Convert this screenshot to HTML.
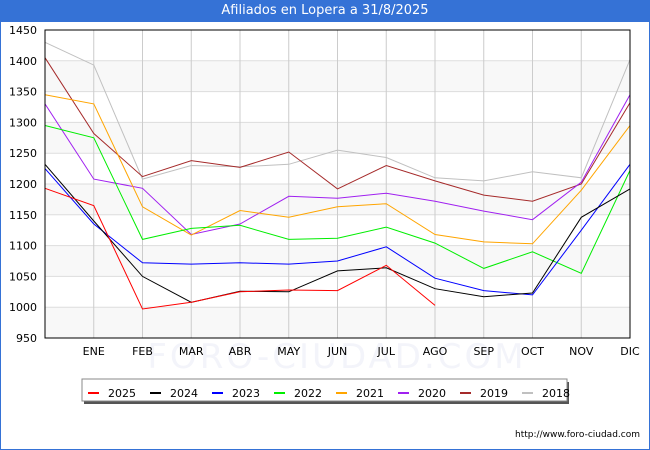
<!DOCTYPE html>
<html><head><meta charset="utf-8"><style>
body{margin:0;width:650px;height:450px;overflow:hidden;background:#fff;font-family:"DejaVu Sans","Liberation Sans",sans-serif}
#wrap{position:absolute;left:0;top:0;width:648px;height:448px;border:1px solid #3572d6}
#title{position:absolute;left:0;top:0;width:650px;height:22px;background:#3572d6;color:#fff;font-size:13px;line-height:22px;text-align:center}
</style></head><body>
<div id="wrap"></div>
<div id="title">Afiliados en Lopera a 31/8/2025</div>
<svg id="chart" width="650" height="450" style="position:absolute;left:0;top:0"></svg>
<script>
const months=["","ENE","FEB","MAR","ABR","MAY","JUN","JUL","AGO","SEP","OCT","NOV","DIC"];
const yTicks=[950,1000,1050,1100,1150,1200,1250,1300,1350,1400,1450];
const seriesNames=["2025","2024","2023","2022","2021","2020","2019","2018"];
const seriesColors=["#ff0000","#000000","#0000ff","#00ee00","#ffa500","#a020f0","#a52a2a","#c0c0c0"];
const s2025=[1193,1165,997,1008,1025,1028,1027,1068,1003];
const s2024=[1232,1140,1050,1008,1026,1025,1059,1064,1030,1017,1023,1146,1192];
const s2023=[1225,1135,1072,1070,1072,1070,1075,1098,1047,1027,1020,1125,1232];
const s2022=[1295,1275,1110,1128,1133,1110,1112,1130,1104,1063,1090,1055,1222];
const s2021=[1345,1330,1163,1117,1157,1146,1163,1168,1118,1106,1103,1190,1295];
const s2020=[1330,1208,1193,1118,1135,1180,1177,1185,1172,1156,1142,1203,1345];
const s2019=[1405,1282,1212,1238,1227,1252,1192,1230,1205,1182,1172,1200,1332];
const s2018=[1430,1393,1208,1230,1228,1232,1255,1243,1210,1205,1220,1210,1402];
const seriesData=[s2025,s2024,s2023,s2022,s2021,s2020,s2019,s2018];

const svg=document.getElementById('chart');
const NS="http://www.w3.org/2000/svg";
const L=45,R=630,T=30,B=338;
const x=i=>L+(R-L)*i/12;
const y=v=>B-(v-950)/500*(B-T);
function mk(tag,attrs,parent){const e=document.createElementNS(NS,tag);for(const k in attrs)e.setAttribute(k,attrs[k]);(parent||svg).appendChild(e);return e;}
for(let i=0;i<yTicks.length-1;i++){
  if(i%2===0){const r=mk('rect',{x:L,y:y(yTicks[i+1]),width:R-L,height:y(yTicks[i])-y(yTicks[i+1]),fill:'#f8f8f8'});
  
  }
}
const wm=mk('text',{x:337,y:368,'text-anchor':'middle','font-size':34,fill:'#f3f4fa','letter-spacing':3});
wm.textContent="FORO-CIUDAD.COM";


yTicks.forEach(v=>{
  const g=mk('line',{x1:L,x2:R,y1:y(v),y2:y(v),stroke:'#dddddd','stroke-width':1});
  
  
  const t=mk('text',{x:L-8,y:y(v)+4,'text-anchor':'end','font-size':11,fill:'#000'});
  t.textContent=v;
  
  
});
months.forEach((m,i)=>{
  if(i===0)return;
  const g=mk('line',{x1:x(i),x2:x(i),y1:T,y2:B,stroke:'#cccccc','stroke-width':1});
  
  
  const t=mk('text',{x:x(i),y:B+17,'text-anchor':'middle','font-size':11,fill:'#000'});
  t.textContent=m;
  
  
});
for(let s=seriesData.length-1;s>=0;s--){
  const pts=seriesData[s].map((v,i)=>x(i).toFixed(1)+','+y(v).toFixed(1)).join(' ');
  const p=mk('polyline',{points:pts,fill:'none',stroke:seriesColors[s],'stroke-width':1});
  
  
}
const fr=mk('rect',{x:L,y:T,width:R-L,height:B-T,fill:'none',stroke:'#000','stroke-width':1});


const lg=mk('g',{});


mk('rect',{x:84,y:382,width:485,height:22,fill:'#555'},lg);
mk('rect',{x:82,y:379,width:485,height:22,fill:'#fff',stroke:'#888','stroke-width':1},lg);
seriesNames.forEach((n,i)=>{
  const bx=88+i*62;
  const e=mk('g',{},lg);
  
  
  mk('line',{x1:bx,x2:bx+11,y1:393,y2:393,stroke:seriesColors[i],'stroke-width':2},e);
  const t=mk('text',{x:bx+20,y:397,'font-size':11,fill:'#000'},e);
  t.textContent=n;
});
const u=mk('text',{x:640,y:437,'text-anchor':'end','font-size':9,fill:'#000'});
u.textContent="http://www.foro-ciudad.com";


</script>
</body></html>
